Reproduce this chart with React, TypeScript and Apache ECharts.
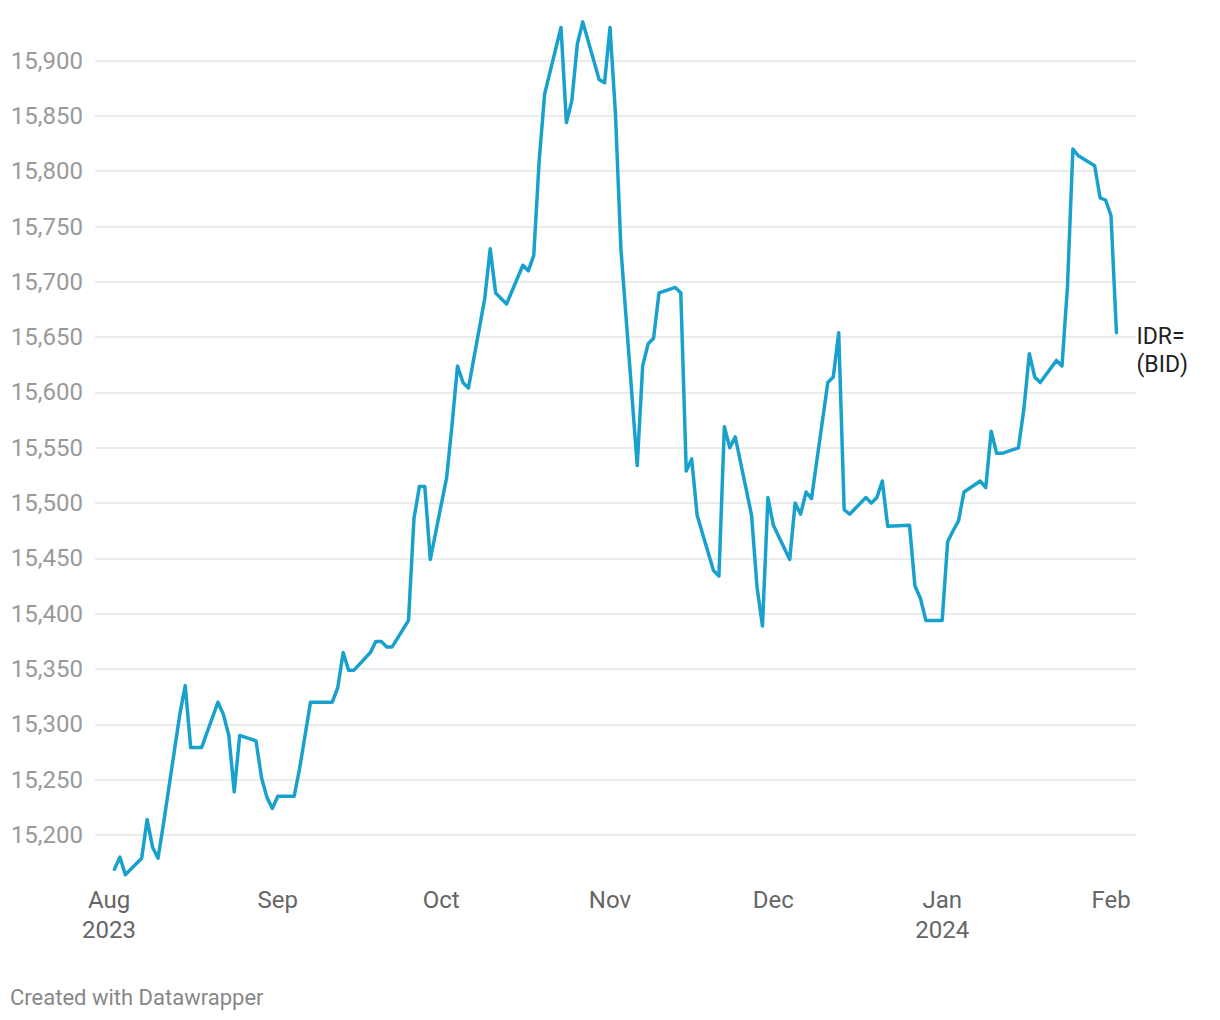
import React, { useEffect, useRef } from "react";
import * as echarts from "echarts";

// Daily USD/IDR bid rate
const dates: string[] = [
  "2023-08-02", "2023-08-03", "2023-08-04", "2023-08-07", "2023-08-08", "2023-08-09", "2023-08-10", "2023-08-11",
  "2023-08-14", "2023-08-15", "2023-08-16", "2023-08-18", "2023-08-21", "2023-08-22", "2023-08-23", "2023-08-24",
  "2023-08-25", "2023-08-28", "2023-08-29", "2023-08-30", "2023-08-31",
  "2023-09-01", "2023-09-04", "2023-09-05", "2023-09-06", "2023-09-07", "2023-09-08", "2023-09-11", "2023-09-12",
  "2023-09-13", "2023-09-14", "2023-09-15", "2023-09-18", "2023-09-19", "2023-09-20", "2023-09-21", "2023-09-22",
  "2023-09-25", "2023-09-26", "2023-09-27", "2023-09-28", "2023-09-29",
  "2023-10-02", "2023-10-03", "2023-10-04", "2023-10-05", "2023-10-06", "2023-10-09", "2023-10-10", "2023-10-11",
  "2023-10-12", "2023-10-13", "2023-10-16", "2023-10-17", "2023-10-18", "2023-10-19", "2023-10-20", "2023-10-23",
  "2023-10-24", "2023-10-25", "2023-10-26", "2023-10-27", "2023-10-30", "2023-10-31",
  "2023-11-01", "2023-11-02", "2023-11-03", "2023-11-06", "2023-11-07", "2023-11-08", "2023-11-09", "2023-11-10",
  "2023-11-13", "2023-11-14", "2023-11-15", "2023-11-16", "2023-11-17", "2023-11-20", "2023-11-21", "2023-11-22",
  "2023-11-23", "2023-11-24", "2023-11-27", "2023-11-28", "2023-11-29", "2023-11-30",
  "2023-12-01", "2023-12-04", "2023-12-05", "2023-12-06", "2023-12-07", "2023-12-08", "2023-12-11", "2023-12-12",
  "2023-12-13", "2023-12-14", "2023-12-15", "2023-12-18", "2023-12-19", "2023-12-20", "2023-12-21", "2023-12-22",
  "2023-12-26", "2023-12-27", "2023-12-28", "2023-12-29",
  "2024-01-01", "2024-01-02", "2024-01-03", "2024-01-04", "2024-01-05", "2024-01-08", "2024-01-09", "2024-01-10",
  "2024-01-11", "2024-01-12", "2024-01-15", "2024-01-16", "2024-01-17", "2024-01-18", "2024-01-19", "2024-01-22",
  "2024-01-23", "2024-01-24", "2024-01-25", "2024-01-26", "2024-01-29", "2024-01-30", "2024-01-31",
  "2024-02-01", "2024-02-02",
];

const values: number[] = [
  15169, 15180, 15164, 15179, 15214, 15189, 15179, 15210,
  15309, 15335, 15279, 15279, 15320, 15309, 15290, 15239,
  15290, 15285, 15252, 15234, 15224,
  15235, 15235, 15260, 15290, 15320, 15320, 15320, 15333,
  15365, 15349, 15349, 15365, 15375, 15375, 15370, 15370,
  15394, 15486, 15515, 15515, 15449,
  15523, 15571, 15624, 15609, 15604, 15685, 15730, 15690,
  15685, 15680, 15715, 15710, 15724, 15810, 15870, 15930,
  15844, 15864, 15915, 15935, 15883, 15880,
  15930, 15852, 15730, 15534, 15624, 15644, 15649, 15690,
  15695, 15690, 15529, 15540, 15489, 15439, 15434, 15569,
  15550, 15560, 15489, 15424, 15389, 15505,
  15480, 15449, 15500, 15490, 15510, 15504, 15609, 15614,
  15654, 15494, 15490, 15505, 15500, 15505, 15520, 15479,
  15480, 15425, 15414, 15394,
  15394, 15465, 15475, 15484, 15510, 15520, 15514, 15565,
  15545, 15545, 15550, 15585, 15635, 15614, 15609, 15629,
  15624, 15695, 15820, 15814, 15805, 15776, 15774,
  15760, 15654,
];

const tickDates: string[] = ["2023-08-01", "2023-09-01", "2023-10-01", "2023-11-01", "2023-12-01", "2024-01-01", "2024-02-01"];
const tickLabels: string[] = ["Aug\n2023", "Sep", "Oct", "Nov", "Dec", "Jan\n2024", "Feb"];

const seriesName = "IDR=\n(BID)";
const yMin = 15150;
const yMax = 15950;
const yStep = 50;

const DAY = 86400000;

export default function App() {
  const ref = useRef<HTMLDivElement>(null);

  useEffect(() => {
    if (!ref.current) return;
    const chart = echarts.init(ref.current, undefined, { renderer: "svg" });
    const tickValues = tickDates.map((d) => Date.parse(d));
    const xMin = tickValues[0] - 2.571 * DAY;
    const xMax = tickValues[tickValues.length - 1] + 4.591 * DAY;
    const seriesData = dates.map((d, i) => [Date.parse(d), values[i]]);

    chart.setOption({
      animation: false,
      textStyle: { fontFamily: "Roboto" },
      grid: { left: 95, width: 1041, top: 5.3, height: 885 },
      xAxis: {
        type: "value",
        min: xMin,
        max: xMax,
        axisLine: { show: false },
        axisTick: { show: false },
        splitLine: { show: false },
        axisLabel: {
          customValues: tickValues,
          formatter: (v: number) => {
            const i = tickValues.indexOf(v);
            return i >= 0 ? tickLabels[i] : "";
          },
          color: "#666",
          fontSize: 24,
          fontFamily: "Roboto",
          lineHeight: 30,
          margin: -5,
          hideOverlap: false,
        },
      },
      yAxis: {
        type: "value",
        min: yMin,
        max: yMax,
        interval: yStep,
        axisLine: { show: false },
        axisTick: { show: false },
        splitLine: {
          show: true,
          showMinLine: false,
          showMaxLine: false,
          lineStyle: { color: "#e4e4e4", width: 1.5 },
        },
        axisLabel: {
          showMinLabel: false,
          showMaxLabel: false,
          color: "#9a9a9a",
          fontSize: 24,
          fontFamily: "Roboto",
          margin: 12,
          formatter: (v: number) => v.toLocaleString("en-US"),
        },
      },
      series: [
        {
          type: "line",
          name: seriesName,
          data: seriesData,
          symbol: "none",
          lineStyle: { color: "#18a1cd", width: 3.5, join: "round", cap: "round" },
          itemStyle: { color: "#18a1cd" },
          endLabel: {
            show: true,
            formatter: seriesName,
            color: "#222",
            fontSize: 23,
            fontFamily: "Roboto",
            lineHeight: 28,
            distance: 20,
            offset: [0, 18],
          },
        },
      ],
      graphic: [
        {
          type: "text",
          x: 10,
          y: 997,
          style: {
            text: "Created with Datawrapper",
            fill: "#888",
            fontSize: 22,
            fontFamily: "Roboto",
            align: "left",
            verticalAlign: "middle",
          },
        },
      ],
    });

    return () => chart.dispose();
  }, []);

  return (
    <div
      ref={ref}
      style={{ position: "fixed", left: 0, top: 0, width: 1220, height: 1020, background: "#fff" }}
    />
  );
}
